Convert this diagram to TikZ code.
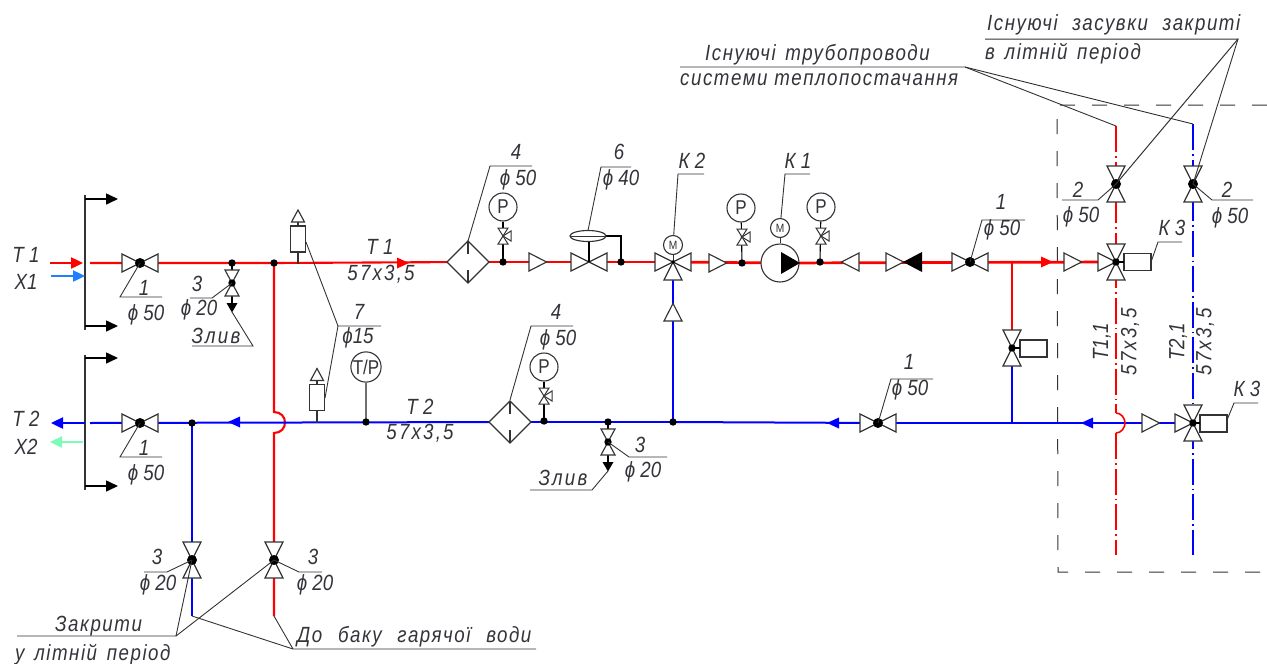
\documentclass[tikz,border=0pt]{standalone}
\usepackage{fontspec}
\setmainfont{Liberation Sans}
\newfontfamily\cadf{Liberation Sans}[FakeStretch=0.85]
\newfontfamily\cadw{Liberation Sans}[FakeStretch=0.85,LetterSpace=7]
\newfontfamily\cadx{Liberation Sans}[FakeStretch=0.85,LetterSpace=10]
\usetikzlibrary{arrows.meta}
\definecolor{ink}{HTML}{333333}
\definecolor{txt}{HTML}{33333A}
\definecolor{xone}{HTML}{1E80FF}
\definecolor{xtwo}{HTML}{7FFBB8}
\tikzset{
  sym/.style={draw=ink,line width=1.15pt,fill=white,line join=miter},
  lead/.style={draw=ink,line width=0.9pt},
  stem/.style={draw=black,line width=1.1pt},
  rpipe/.style={draw=red,line width=2.1pt},
  rthick/.style={draw=red,line width=2.7pt},
  bpipe/.style={draw=blue,line width=2pt},
  bthick/.style={draw=blue,line width=2.7pt},
  rdd/.style={draw=red,line width=2pt,dash pattern=on 26pt off 4pt on 1.5pt off 4pt},
  bdd/.style={draw=blue,line width=2pt,dash pattern=on 26pt off 4pt on 1.5pt off 4pt},
  frame/.style={draw=ink,line width=1pt,dash pattern=on 15pt off 17pt},
  brk/.style={draw=ink,line width=1.2pt},
  brkarr/.style={draw=black,line width=1.6pt,-{Triangle[length=12pt,width=11pt]}},
  inarr/.style={line width=2.4pt,-{Triangle[length=12pt,width=11pt]}},
  lbl/.style={font=\fontsize{22}{22}\cadf\itshape,text=txt,inner sep=0pt},
  lblx/.style={font=\fontsize{22}{22}\cadx\itshape,text=txt,inner sep=0pt},
  big/.style={font=\fontsize{22}{22}\cadw\itshape,text=txt,inner sep=0pt},
  gauge/.style={circle,draw=ink,line width=1.1pt,fill=white,minimum size=28pt,inner sep=0pt,font=\fontsize{20}{20}\cadf,text=txt},
  motor/.style={circle,draw=ink,line width=1.1pt,fill=white,minimum size=19pt,inner sep=0pt,font=\fontsize{12}{12}\cadf,text=txt},
  valveh/.pic={\path[sym] (-18,-9)--(18,9)--(18,-9)--(-18,9)--cycle;},
  valvev/.pic={\path[sym] (-9,-18)--(9,18)--(-9,18)--(9,-18)--cycle;},
  tee/.pic={\path[sym] (-18,-9)--(18,9)--(18,-9)--(-18,9)--cycle;
            \path[sym] (0,0)--(9,18)--(-9,18)--cycle;},
  cross/.pic={\path[sym] (-18,-9)--(0,0)--(-18,9)--cycle;
            \path[sym] (-9,-18)--(9,18)--(-9,18)--(9,-18)--cycle;},
  small/.pic={\path[sym] (-7,-13)--(7,13)--(-7,13)--(7,-13)--cycle;},
  gvalve/.pic={\path[draw=ink,line width=1pt,fill=white] (-5,-8)--(5,8)--(-5,8)--(5,-8)--cycle;
             \path[draw=ink,line width=1pt,fill=white] (0,0)--(8,-5)--(8,5)--cycle;},
  tri/.pic={\path[sym] (0,-9)--(17.5,0)--(0,9)--cycle;},
  flow/.pic={\fill (0,0)--(-12,-5.5)--(-12,5.5)--cycle;},
  filt/.pic={\path[sym] (-21,0)--(0,-21)--(21,0)--(0,21)--cycle;
             \draw[ink,line width=1.1pt] (0,-21)--(0,-8) (0,8)--(0,21);},
  vent/.pic={\path[sym] (-7.5,-13)--(7.5,-13)--(7.5,13)--(-7.5,13)--cycle;
             \draw[ink,line width=1.1pt] (0,13)--(0,25) (0,-13)--(0,-17);
             \path[sym] (-6.5,-17)--(6.5,-17)--(0,-29)--cycle;},
  jd/.pic={\fill[black] (0,0) circle (3.7);},
  bd/.pic={\fill[black] (0,0) circle (5);},
  drain/.pic={\fill[black] (5.5,-4.5)--(0,5)--(-5.5,-4.5)--cycle;},
  act/.pic={\path[sym] (0,-8.5) rectangle (27,8.5);},
}
\begin{document}
\begin{tikzpicture}[x=1pt,y=-1pt]
\useasboundingbox (0,0) rectangle (1267,664);
% --- coordinates
\coordinate (brA) at (85,195); \coordinate (brB) at (85,330);
\coordinate (brC) at (85,355); \coordinate (brD) at (85,490);
\coordinate (brAe) at (118,199); \coordinate (brAs) at (85,199);
\coordinate (brBe) at (118,326); \coordinate (brBs) at (85,326);
\coordinate (brCe) at (118,358); \coordinate (brCs) at (85,358);
\coordinate (brDe) at (118,486); \coordinate (brDs) at (85,486);
\coordinate (t1s) at (50,263); \coordinate (t1e) at (83,263);
\coordinate (x1s) at (51,276); \coordinate (x1e) at (85,276);
\coordinate (t2s) at (85,423); \coordinate (t2e) at (51,423);
\coordinate (x2s) at (83,442); \coordinate (x2e) at (50,442);
\coordinate (r0) at (90,263); \coordinate (b0) at (90,423);
\coordinate (v1) at (140,263); \coordinate (v2) at (140,423);
\coordinate (j1) at (232,263); \coordinate (j2) at (274,263);
\coordinate (vd1) at (232,283); \coordinate (vd1e) at (232,303);
\coordinate (tee1) at (274,412); \coordinate (tee2) at (274,433);
\coordinate (cr) at (285,422.5);
\coordinate (vr) at (274,560); \coordinate (vb) at (192,560);
\coordinate (er) at (274,616); \coordinate (eb) at (192,616);
\coordinate (j3) at (192,423);
\coordinate (ven1) at (298,239); \coordinate (ven1b) at (298,263);
\coordinate (ven2) at (317,397.5); \coordinate (ven2b) at (317,422);
\coordinate (f1) at (468,262); \coordinate (f2) at (510,422);
\coordinate (j4) at (503,262); \coordinate (v6) at (589,262);
\coordinate (j5) at (621,262); \coordinate (k2) at (673,262);
\coordinate (j6) at (742,263); \coordinate (pump) at (780,263);
\coordinate (j7) at (820,262); \coordinate (v3) at (970,262);
\coordinate (j8) at (1012,262); \coordinate (vm) at (1012,348);
\coordinate (j9) at (1012,423); \coordinate (k3a) at (1116,262);
\coordinate (k3b) at (1193,423); \coordinate (v4) at (878,423);
\coordinate (j10) at (673,422); \coordinate (j11) at (608,422);
\coordinate (j12) at (544,421); \coordinate (j13) at (366,422);
\coordinate (vd2) at (608,442); \coordinate (vd2e) at (608,462);
\coordinate (va) at (1116,184); \coordinate (vc) at (1193,184);
\coordinate (ta) at (1116,126); \coordinate (tc) at (1193,124);
\coordinate (ba) at (1116,555); \coordinate (bc) at (1193,555);
\coordinate (ar1) at (1116,413); \coordinate (ar2) at (1116,433);
\coordinate (crA) at (1125,423);
% --- dashed frame
\draw[frame] (1267,105) -- (1057,105) -- (1058,572) -- (1267,572);
% --- pipes
\draw[rpipe] (r0) -- (v1) -- (j2) -- (f1);
\draw[rthick] (f1) -- (k2) ;
\draw[rthick] (k2) -- (pump) -- (k3a);
\draw[rpipe] (j8) -- (vm);
\draw[rpipe] (j2) -- (tee1) .. controls (281,412) and (285,417) .. (cr) .. controls (285,428) and (281,433) .. (tee2) -- (vr) -- (er);
\draw[bthick] (k3b) -- (v4);
\draw[bpipe] (v4) -- (j10);
\draw[bpipe] (j10) -- (f2);
\draw[bpipe] (f2) -- (b0);
\draw[bthick] (k2) -- (j10);
\draw[bthick] (vm) -- (j9);
\draw[bpipe] (j3) -- (vb);
\draw[bthick] (vb) -- (eb);
\draw[rdd] (ta) -- (k3a);
\draw[rdd] (k3a) -- (ar1);
\draw[draw=red,line width=1.6pt] (ar1) .. controls (1121,413) and (1125,418) .. (crA) .. controls (1125,428) and (1121,433) .. (ar2);
\draw[rdd] (ar2) -- (ba);
\draw[bdd] (tc) -- (k3b);
\draw[bdd] (k3b) -- (bc);
% --- entries
\draw[brk] (brA) -- (brB);
\draw[brk] (brC) -- (brD);
\draw[brkarr] (brAs) -- (brAe);
\draw[brkarr] (brBs) -- (brBe);
\draw[brkarr] (brCs) -- (brCe);
\draw[brkarr] (brDs) -- (brDe);
\draw[inarr,red] (t1s) -- (t1e);
\draw[inarr,xone] (x1s) -- (x1e);
\draw[inarr,blue] (t2s) -- (t2e);
\draw[inarr,xtwo] (x2s) -- (x2e);
% --- stems
\draw[stem] (j1) -- (vd1e);
\draw[stem] (j11) -- (vd2e);
% --- flow arrows
\pic[red] at (409,263) {flow};
\pic[red] at (1053,262) {flow};
\pic[blue,rotate=180] at (228,422) {flow};
\pic[blue,rotate=180] at (827,423) {flow};
\pic[blue,rotate=180] at (1081,423) {flow};
% --- valves
\pic at (v1) {valveh};
\pic at (v2) {valveh};
\pic at (v3) {valveh};
\pic at (v4) {valveh};
\pic at (v6) {valveh};
\pic at (vd1) {small};
\pic at (vd2) {small};
\pic at (vr) {valvev};
\pic at (vb) {valvev};
\pic at (va) {valvev};
\pic at (vc) {valvev};
\pic at (vm) {valvev};
\pic at (k2) {tee};
\pic at (k3a) {cross};
\pic at (k3b) {cross};
\pic at (232,307.5) {drain};
\pic at (608,466.5) {drain};
\pic at (f1) {filt};
\pic at (f2) {filt};
\pic at (ven1) {vent};
\pic at (ven2) {vent};
\pic at (529,262) {tri};
\pic at (709,263) {tri};
\pic[rotate=180] at (859,262) {tri};
\pic at (886,262) {tri};
\pic at (1064,262) {tri};
\pic at (1142,423) {tri};
\pic[rotate=90] at (673,321) {tri};
\fill[black] (903,262) -- (922,252) -- (922,272) -- cycle;
\pic at (1124,262) {act};
\pic at (1200,423.5) {act};
\pic at (1020,348.5) {act};
\draw[stem] (k3a) -- (1124,262);
\draw[stem] (k3b) -- (1200,423);
\draw[stem] (vm) -- (1020,348);
% pump
\node[circle,draw=ink,line width=1.1pt,fill=white,minimum size=38pt,inner sep=0pt] (pmp) at (pump) {};
\fill[black] (800,263) -- (781,252) -- (781,274) -- cycle;
\node[motor] (mk1) at (780,228) {M};
\node[motor] (mk2) at (673,245) {M};
\draw[ink,line width=1pt] (mk1) -- (pmp);
\draw[ink,line width=1pt] (k2) -- (mk2);
% actuator 6
\draw[stem] (v6) -- (589,236);
\draw[stem] (606,236) -- (621,236) -- (j5);
\path[sym] (588,236) ellipse (18 and 5.5);
\draw[ink,line width=0.9pt] (570,236) -- (606,236);
% gauges
\node[gauge] (p1) at (503,207) {P};
\node[gauge] (p2) at (741,208) {P};
\node[gauge] (p3) at (821,207) {P};
\node[gauge] (p4) at (544,367) {P};
\node[gauge,minimum size=29pt] (tp) at (366,367) {T/P};
\draw[stem] (p1) -- (j4);
\draw[stem] (p2) -- (j6);
\draw[stem] (p3) -- (j7);
\draw[stem] (p4) -- (j12);
\draw[draw=ink!70,line width=1.3pt] (tp) -- (j13);
\pic at (503,236) {gvalve};
\pic at (742,237) {gvalve};
\pic at (821,236) {gvalve};
\pic at (544,396) {gvalve};
% dots
\foreach \d in {j1,j2,j3,j4,j5,j6,j7,j10,j11,j12,j13,k3a,k3b,vm} {\pic at (\d) {jd};}
\fill[black] (k2) circle (1.8);
\pic at (vd1) {jd}; \pic at (vd2) {jd};
\foreach \d in {v1,v2,v3,v4,vr,vb,va,vc} {\pic at (\d) {bd};}
% --- leaders
\coordinate (m1a) at (120,297); \coordinate (m1b) at (162,297);
\draw[lead] (v1) -- (m1a) -- (m1b);
\coordinate (m2a) at (120,457); \coordinate (m2b) at (162,457);
\draw[lead] (v2) -- (m2a) -- (m2b);
\draw[lead] (vd1) -- (212,298) -- (190,298);
\draw[lead] (232,312) -- (253,346) -- (192,346);
\draw[lead] (306,242) -- (338,326) -- (381,326);
\draw[lead] (338,326) -- (325,398);
\draw[lead] (f1 |- 0,241) -- (490,166) -- (532,166);
\draw[lead] (588,230.5) -- (601,167) -- (631,167);
\draw[lead] (mk2) -- (678,174) -- (704,174);
\draw[lead] (mk1) -- (785,174) -- (810,174);
\draw[lead] (v3) -- (982,220) -- (1025,220);
\draw[lead] (f2 |- 0,400) -- (531,326) -- (573,326);
\draw[lead] (vd2) -- (629,457) -- (667,457);
\draw[lead] (608,471) -- (592,490) -- (530,490);
\draw[lead] (v4) -- (891,379) -- (933,379);
\draw[lead] (1151,262) -- (1158,242) -- (1182,242);
\draw[lead] (1227,420) -- (1234,403) -- (1258,403);
\draw[lead] (va) -- (1098,200) -- (1062,200);
\draw[lead] (vc) -- (1212,200) -- (1253,200);
\draw[lead] (vb) -- (167,572) -- (144,572);
\draw[lead] (vr) -- (299,572) -- (322,572);
\coordinate (zk) at (176,636); \coordinate (db) at (293,649);
\draw[lead] (17,636) -- (zk) -- (vb);
\draw[lead] (zk) -- (vr);
\draw[lead] (eb) -- (db) -- (536,649);
\draw[lead] (er) -- (db);
\coordinate (ts) at (965,67); \coordinate (zs) at (1238,39);
\draw[lead] (680,67) -- (ts) -- (ta);
\draw[lead] (ts) -- (tc);
\draw[draw=ink,line width=1pt] (985,39) -- (zs) -- (va);
\draw[lead] (zs) -- (vc);
% --- labels
\node[lbl] (a1) at (26,255) {T 1};
\node[lbl] (a2) at (26,282) {X1};
\node[lbl] (a3) at (26,419) {T 2};
\node[lbl] (a4) at (26,447) {X2};
\node[lbl] (b1) at (144,288) {1};
\node[lbl] (b2) at (146,315) {ϕ 50};
\node[lbl] (b3) at (144,448) {1};
\node[lbl] (b4) at (146,475) {ϕ 50};
\node[lbl] (c1) at (197,284) {3};
\node[lbl] (c2) at (199,310) {ϕ 20};
\node[lblx] (c3) at (216,336) {Злив};
\node[lbl] (d1) at (380,247) {T 1};
\node[lblx] (d2) at (381,274) {57x3,5};
\node[lbl] (d3) at (359,312) {7};
\node[lbl] (d4) at (358,338) {ϕ15};
\node[lbl] (e1) at (420,407) {T 2};
\node[lblx] (e2) at (420,433) {57x3,5};
\node[lbl] (f3) at (516,152) {4};
\node[lbl] (f4) at (518,180) {ϕ 50};
\node[lbl] (g1) at (619,152) {6};
\node[lbl] (g2) at (621,180) {ϕ 40};
\node[lbl] (g3) at (692,161) {К 2};
\node[lbl] (g4) at (798,161) {К 1};
\node[lbl] (h1) at (1001,202) {1};
\node[lbl] (h2) at (1002,230) {ϕ 50};
\node[lbl] (h3) at (1172,228) {К 3};
\node[lbl] (h4) at (1247,389) {К 3};
\node[lbl] (i1) at (909,362) {1};
\node[lbl] (i2) at (910,390) {ϕ 50};
\node[lbl] (i3) at (556,312) {4};
\node[lbl] (i4) at (558,340) {ϕ 50};
\node[lbl] (k1) at (640,445) {3};
\node[lbl] (k4) at (643,472) {ϕ 20};
\node[lblx] (k5) at (563,478) {Злив};
\node[lbl] (l1) at (1078,190) {2};
\node[lbl] (l2) at (1081,217) {ϕ 50};
\node[lbl] (l3) at (1227,190) {2};
\node[lbl] (l4) at (1230,218) {ϕ 50};
\node[lbl] (n1) at (157,557) {3};
\node[lbl] (n2) at (158,585) {ϕ 20};
\node[lbl] (n3) at (313,557) {3};
\node[lbl] (n4) at (315,585) {ϕ 20};
\node[lbl,rotate=90] (o1) at (1102,342) {T1,1};
\node[lblx,rotate=90] (o2) at (1130,342) {57x3,5};
\node[lbl,rotate=90] (o3) at (1178,342) {T2,1};
\node[lblx,rotate=90] (o4) at (1205,342) {57x3,5};
\node[big,anchor=west] (q1) at (987,25) {Існуючі\hspace{8pt} засувки\hspace{8pt} закриті};
\node[big,anchor=west] (q2) at (985,54) {в\hspace{3pt} літній\hspace{3pt} період};
\node[big,anchor=west] (q3) at (705,55) {Існуючі\hspace{3pt} трубопроводи};
\node[big,anchor=west] (q4) at (680,80) {системи теплопостачання};
\node[big,anchor=west] (q5) at (55,626) {Закрити};
\node[big,anchor=west] (q6) at (15,655) {у\hspace{3pt} літній\hspace{3pt} період};
\node[big,anchor=west] (q7) at (297,637) {До\hspace{9pt} баку\hspace{9pt} гарячої\hspace{9pt} води};
\end{tikzpicture}
\end{document}
